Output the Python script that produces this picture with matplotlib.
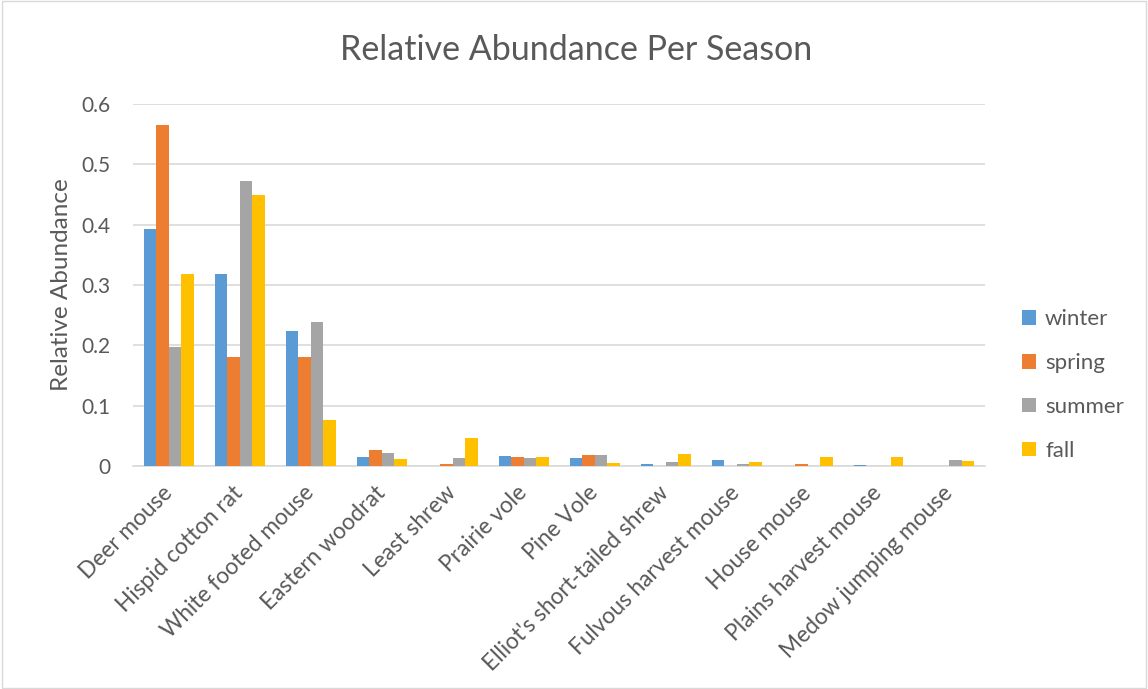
import matplotlib
matplotlib.use("Agg")
import matplotlib.pyplot as plt
import numpy as np

categories = ["Deer mouse", "Hispid cotton rat", "White footed mouse", "Eastern woodrat",
              "Least shrew", "Prairie vole", "Pine Vole", "Elliot's short-tailed shrew",
              "Fulvous harvest mouse", "House mouse", "Plains harvest mouse", "Medow jumping mouse"]
winter = [0.393, 0.318, 0.224, 0.0145, 0.0, 0.017, 0.0127, 0.0033, 0.010, 0.0, 0.0015, 0.0]
spring = [0.565, 0.181, 0.181, 0.0265, 0.0033, 0.015, 0.0188, 0.0, 0.0, 0.0033, 0.0, 0.0]
summer = [0.198, 0.473, 0.238, 0.0216, 0.0138, 0.0138, 0.0177, 0.0066, 0.003, 0.0, 0.0, 0.010]
fall = [0.319, 0.449, 0.076, 0.0116, 0.047, 0.015, 0.005, 0.020, 0.0066, 0.015, 0.015, 0.009]
series = [("winter", winter, "#5B9BD5"), ("spring", spring, "#ED7D31"),
          ("summer", summer, "#A5A5A5"), ("fall", fall, "#FFC000")]
yticks = [0, 0.1, 0.2, 0.3, 0.4, 0.5, 0.6]
ytick_labels = ["0", "0.1", "0.2", "0.3", "0.4", "0.5", "0.6"]

plt.rcParams['font.family'] = ['Lato', 'DejaVu Sans']
txt = "#595959"

fig = plt.figure(figsize=(11.48, 6.89), dpi=100)
ax = fig.add_axes([0.116, 0.3237, 0.742, 0.5254])

x = np.arange(len(categories))
w = 0.176
for i, (name, vals, col) in enumerate(series):
    ax.bar(x + (i - 1.5) * w, vals, width=w, color=col, label=name, zorder=3)

ax.set_xlim(-0.5, len(categories) - 0.5)
ax.set_ylim(0, 0.6)
ax.set_yticks(yticks)
ax.set_yticklabels(ytick_labels, color=txt, fontsize=15)
ax.set_xticks(x)
ax.set_xticklabels(categories, rotation=45, ha="right", va="center",
                   rotation_mode="anchor", color=txt, fontsize=16.3)
ax.tick_params(axis="y", length=0, pad=16)
ax.tick_params(axis="x", length=0, pad=17)
ax.yaxis.grid(True, color="#D9D9D9", linewidth=1.2, zorder=0)
for s in ["top", "right", "left"]:
    ax.spines[s].set_visible(False)
ax.spines["bottom"].set_color("#D9D9D9")
ax.spines["bottom"].set_linewidth(1.2)

ax.set_ylabel("Relative Abundance", color=txt, fontsize=17.5, labelpad=7)
fig.text(0.502, 0.928, "Relative Abundance Per Season", ha="center", va="center",
         color=txt, fontsize=24.5)

leg = fig.legend(loc="center left", bbox_to_anchor=(0.873, 0.441), frameon=False,
                 fontsize=16, labelspacing=1.07, handlelength=0.63, handleheight=0.63,
                 handletextpad=0.4, labelcolor=txt)

fig.add_artist(plt.Rectangle((0.0015, 0.002), 0.997, 0.996, transform=fig.transFigure,
                             fill=False, edgecolor="#D9D9D9", linewidth=1))

fig.savefig("out.png", dpi=100, facecolor="white")
